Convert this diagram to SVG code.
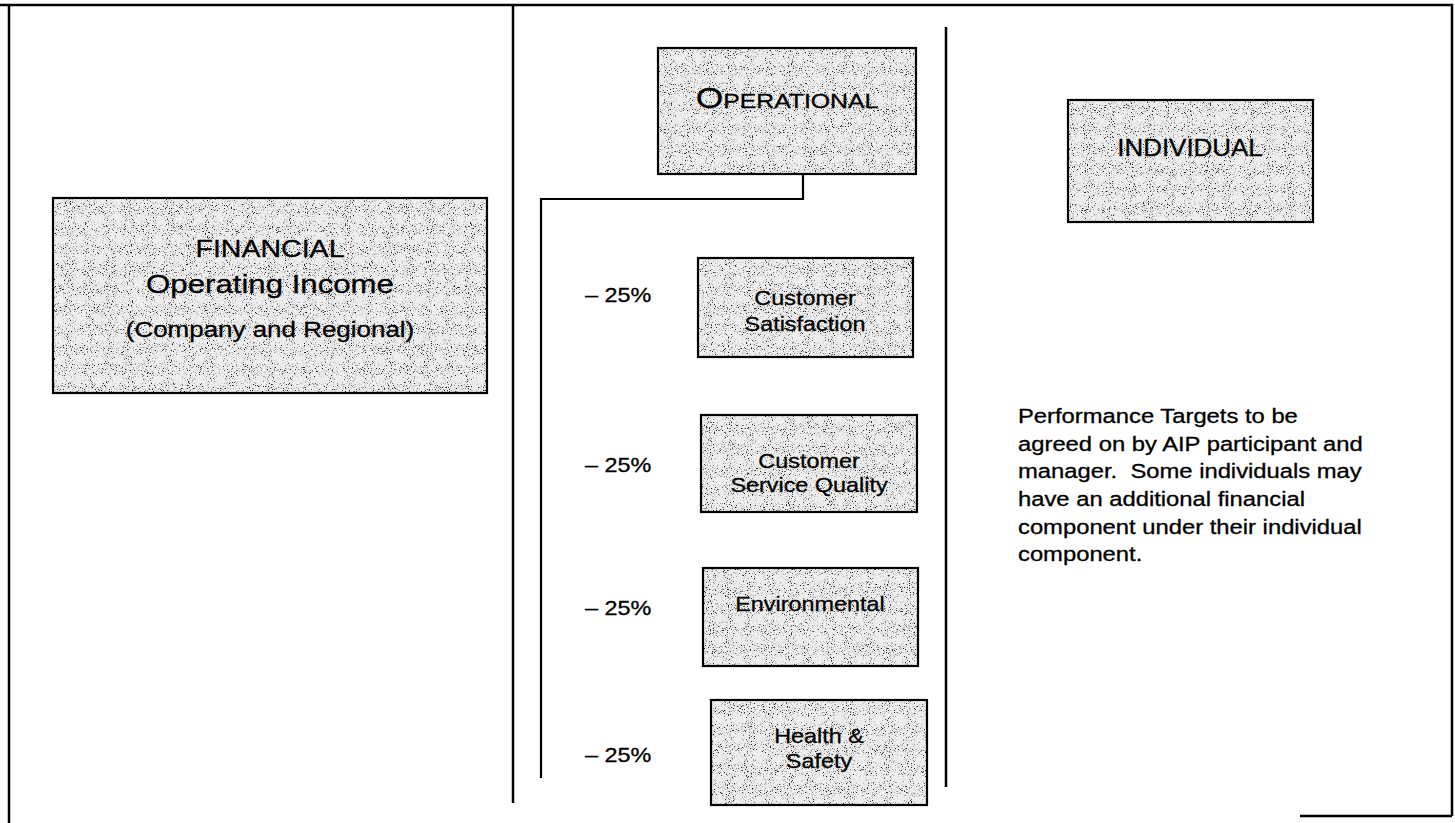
<svg xmlns="http://www.w3.org/2000/svg" width="1455" height="823" viewBox="0 0 1455 823">
<style>
  .frame{fill:none;stroke:#000;stroke-width:2.5}
  .box{stroke:#000;stroke-width:2.2;fill:none}
  .bg{fill:#eeeeee}
  .t{font-family:"Liberation Sans",Arial,sans-serif;fill:#000;stroke:#000;stroke-width:0.3}
  .c{text-anchor:middle}
  .conn{fill:none;stroke:#000;stroke-width:2.2}
</style>
<defs>
  <filter id="speck" x="0" y="0" width="1" height="1">
    <feTurbulence type="fractalNoise" baseFrequency="0.95" numOctaves="2" seed="5" result="n"/>
    <feColorMatrix in="n" type="matrix" values="0 0 0 0 0  0 0 0 0 0  0 0 0 0 0  -6 0 0 0 2.55" result="a"/>
    <feFlood flood-color="#222"/>
    <feComposite in2="a" operator="in" result="dots"/>
    <feMerge><feMergeNode in="SourceGraphic"/><feMergeNode in="dots"/></feMerge>
  </filter>
</defs>
<rect width="1455" height="823" fill="#fff"/>

<g id="frame">
  <path class="frame" d="M0 5 H1452 V816 M9 5 V823 M1300 816 H1452"/>
  <line class="frame" x1="513" y1="5" x2="513" y2="803"/>
  <line class="frame" x1="946" y1="27" x2="946" y2="787"/>
</g>

<g id="connectors">
  <path class="conn" d="M803 174 V199 H541 V778"/>
</g>

<g id="financial">
  <rect class="bg" x="53" y="198" width="434" height="195" filter="url(#speck)"/>
  <text class="t c" font-size="24" transform="translate(270,257) scale(1.19,1)">FINANCIAL</text>
  <text class="t c" font-size="26" transform="translate(270,293) scale(1.2,1)">Operating Income</text>
  <text class="t c" font-size="22" transform="translate(270,337) scale(1.18,1)">(Company and Regional)</text>
  <rect class="box" x="53" y="198" width="434" height="195"/>
</g>

<g id="operational">
  <rect class="bg" x="658" y="48" width="258" height="126" filter="url(#speck)"/>
  <text class="t c" transform="translate(787,108) scale(1.18,1)"><tspan font-size="30">O</tspan><tspan font-size="21">PERATIONAL</tspan></text>
  <rect class="box" x="658" y="48" width="258" height="126"/>
</g>

<g id="individual">
  <rect class="bg" x="1068" y="100" width="245" height="122" filter="url(#speck)"/>
  <text class="t c" font-size="24" transform="translate(1190,156) scale(1.08,1)">INDIVIDUAL</text>
  <rect class="box" x="1068" y="100" width="245" height="122"/>
</g>

<g id="customer-satisfaction">
  <text class="t" font-size="20" transform="translate(585,302) scale(1.17,1)">– 25%</text>
  <rect class="bg" x="698" y="258" width="215" height="99" filter="url(#speck)"/>
  <text class="t c" font-size="20" transform="translate(805,305) scale(1.17,1)">Customer</text>
  <text class="t c" font-size="20" transform="translate(805,331) scale(1.17,1)">Satisfaction</text>
  <rect class="box" x="698" y="258" width="215" height="99"/>
</g>

<g id="customer-service-quality">
  <text class="t" font-size="20" transform="translate(585,472) scale(1.17,1)">– 25%</text>
  <rect class="bg" x="701" y="415" width="216" height="97" filter="url(#speck)"/>
  <text class="t c" font-size="20" transform="translate(809,468) scale(1.17,1)">Customer</text>
  <text class="t c" font-size="20" transform="translate(809,492) scale(1.17,1)">Service Quality</text>
  <rect class="box" x="701" y="415" width="216" height="97"/>
</g>

<g id="environmental">
  <text class="t" font-size="20" transform="translate(585,615) scale(1.17,1)">– 25%</text>
  <rect class="bg" x="703" y="568" width="215" height="98" filter="url(#speck)"/>
  <text class="t c" font-size="20" transform="translate(810,611) scale(1.17,1)">Environmental</text>
  <rect class="box" x="703" y="568" width="215" height="98"/>
</g>

<g id="health-safety">
  <text class="t" font-size="20" transform="translate(585,762) scale(1.17,1)">– 25%</text>
  <rect class="bg" x="711" y="700" width="216" height="105" filter="url(#speck)"/>
  <text class="t c" font-size="20" transform="translate(819,743) scale(1.17,1)">Health &amp;</text>
  <text class="t c" font-size="20" transform="translate(819,768) scale(1.17,1)">Safety</text>
  <rect class="box" x="711" y="700" width="216" height="105"/>
</g>

<g id="note">
  <text class="t" font-size="20" transform="translate(1018,423) scale(1.19,1)">
    <tspan x="0" y="0">Performance Targets to be</tspan>
    <tspan x="0" y="27.7">agreed on by AIP participant and</tspan>
    <tspan x="0" y="55.4">manager.&#160; Some individuals may</tspan>
    <tspan x="0" y="83.1">have an additional financial</tspan>
    <tspan x="0" y="110.8">component under their individual</tspan>
    <tspan x="0" y="138.5">component.</tspan>
  </text>
</g>
</svg>
